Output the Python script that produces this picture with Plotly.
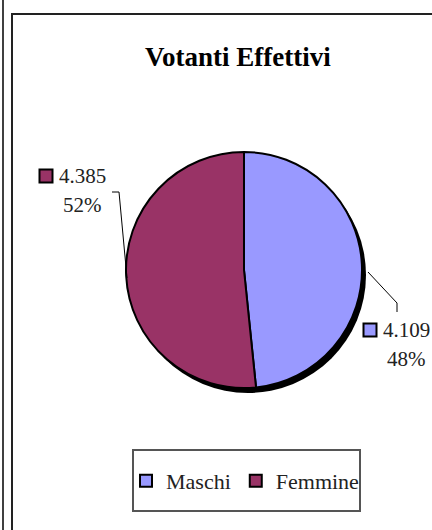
import plotly.graph_objects as go

# ---- data ----
categories = ["Maschi", "Femmine"]
values = [4109, 4385]
colors = ["#9999FF", "#993366"]
title_text = "Votanti Effettivi"

W, H = 432, 530
FONT = "Liberation Serif, Times New Roman, serif"


def px(x):
    return x / W


def py(y):
    return 1 - y / H


total = sum(values)
num_txt = [f"{v:,}".replace(",", ".") for v in values]
pct_txt = [f"{round(v / total * 100)}%" for v in values]

# pie geometry (pixels)
cx, cy, r = 244, 270, 118
sdx, sdy = 4, 5

fig = go.Figure()

# shadow
fig.add_trace(go.Pie(
    values=[1], labels=["shadow"], marker=dict(colors=["black"], line=dict(width=0)),
    domain=dict(x=[px(cx - r + sdx), px(cx + r + sdx)], y=[py(cy + r + sdy), py(cy - r + sdy)]),
    textinfo="none", hoverinfo="skip", showlegend=False, sort=False,
))

fig.add_trace(go.Pie(
    labels=categories, values=values, sort=False, direction="clockwise", rotation=0,
    marker=dict(colors=colors, line=dict(color="black", width=2)),
    domain=dict(x=[px(cx - r), px(cx + r)], y=[py(cy + r), py(cy - r)]),
    textinfo="none", hoverinfo="label+value+percent",
))

shapes = []
# outer frame lines
shapes.append(dict(type="line", xref="paper", yref="paper", x0=px(3), x1=px(3), y0=0, y1=1,
                   line=dict(color="black", width=1.5)))
shapes.append(dict(type="path", xref="paper", yref="paper",
                   path=f"M {px(12)},0 L {px(12)},{py(14)} L 1.02,{py(14)}",
                   line=dict(color="#222222", width=2)))

# data labels: centre of number text (pixels)
label_pos = {"Maschi": (406, 330), "Femmine": (82, 176)}
line_gap = 29
annotations = [dict(text=f"<b>{title_text}</b>", x=px(238), y=py(57), xref="paper", yref="paper",
                    xanchor="center", yanchor="middle",
                    showarrow=False, font=dict(family=FONT, size=27, color="black"))]
for cat, col, nt, pt in zip(categories, colors, num_txt, pct_txt):
    lx, ly = label_pos[cat]
    annotations.append(dict(text=nt, x=px(lx), y=py(ly), xref="paper", yref="paper",
                            xanchor="center", yanchor="middle", showarrow=False,
                            font=dict(family=FONT, size=21, color="#222222")))
    annotations.append(dict(text=pt, x=px(lx), y=py(ly + line_gap), xref="paper", yref="paper",
                            xanchor="center", yanchor="middle", showarrow=False,
                            font=dict(family=FONT, size=21, color="#222222")))
    # key square
    sx, sy = lx - 36, ly
    shapes.append(dict(type="rect", xref="paper", yref="paper",
                       x0=px(sx - 6.5), x1=px(sx + 6.5), y0=py(sy + 6.5), y1=py(sy - 6.5),
                       fillcolor=col, line=dict(color="black", width=2)))

# leader lines
shapes.append(dict(type="path", xref="paper", yref="paper",
                   path=f"M {px(112)},{py(192)} L {px(119)},{py(192)} L {px(127)},{py(278)}",
                   line=dict(color="black", width=1)))
shapes.append(dict(type="path", xref="paper", yref="paper",
                   path=f"M {px(368)},{py(272)} L {px(397)},{py(303)} L {px(397)},{py(312)}",
                   line=dict(color="black", width=1)))

# legend box
shapes.append(dict(type="rect", xref="paper", yref="paper",
                   x0=px(133), x1=px(360), y0=py(511), y1=py(450),
                   line=dict(color="#555555", width=2), fillcolor="rgba(0,0,0,0)"))

fig.update_layout(
    width=W, height=H, margin=dict(l=0, r=0, t=0, b=0),
    paper_bgcolor="white", plot_bgcolor="white",
    shapes=shapes, annotations=annotations,
    showlegend=True,
    legend=dict(orientation="h", x=px(245), xanchor="center", y=py(481), yanchor="middle",
                font=dict(family=FONT, size=22, color="#222222"), borderwidth=0,
                bgcolor="rgba(0,0,0,0)", traceorder="normal", itemclick=False, itemdoubleclick=False),
)

fig.write_html("out.html", config={"displayModeBar": False},
               post_script="document.body.style.margin='0';")
